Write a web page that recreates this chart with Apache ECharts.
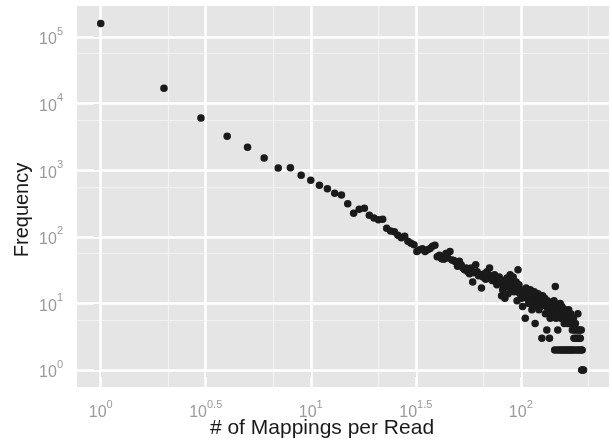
<!DOCTYPE html>
<html>
<head>
<meta charset="utf-8">
<script src="https://cdn.jsdelivr.net/npm/echarts@6/dist/echarts.min.js"></script>
<style>
html,body{margin:0;padding:0;background:#ffffff;}
#chart{width:612px;height:442px;}
</style>
</head>
<body>
<div id="chart"></div>
<script>
// ---- data ----
const mappingsPerRead = [
  1,2,3,4,5,6,7,8,9,10,
  11,12,13,14,15,16,17,18,19,20,
  21,22,23,24,25,26,27,28,29,30,
  31,32,33,34,35,36,37,38,39,40,
  41,42,43,44,45,46,47,48,49,50,
  51,52,53,54,55,56,57,58,59,60,
  61,62,63,64,65,66,67,68,69,70,
  71,72,73,74,75,76,77,78,79,80,
  81,82,83,84,85,86,87,88,89,90,
  91,92,93,94,95,96,97,98,99,100,
  101,102,103,104,105,106,107,108,109,110,
  111,112,113,114,115,116,117,118,119,120,
  121,122,123,124,125,126,127,128,129,130,
  131,132,133,134,135,136,137,138,139,140,
  141,142,143,144,145,146,147,148,149,150,
  151,152,153,154,155,156,157,158,159,160,
  161,162,163,164,165,166,167,168,169,170,
  171,172,173,174,175,176,177,178,179,180,
  181,182,183,184,185,186,187,188,189,190,
  191,192,193,194,195,196,197,199
];
const frequency = [
  160000,17000,6100,3230,2210,1525,1080,1090,838,705,
  593,528,450,425,314,225,259,268,210,192,
  180,183,134,122,119,106,97,102,86,80,
  76,60,64,66,60,64,67,72,75,50,
  53,47,46,56,48,60,45,44,42,36,
  43,38,34,32,34,30,28,34,21,29,
  38,30,26,27,17,25,28,23,30,24,
  34,26,22,24,27,21,19,23,25,20,
  13,16,22,12,18,24,14,20,27,17,
  22,25,15,18,21,11,32,19,14,16,
  12,9,15,13,6,17,12,14,10,11,
  16,13,8,12,9,15,5,11,13,10,
  14,8,12,9,11,3,13,10,10,12,
  7,9,4,11,8,10,3,6,9,7,
  10,8,9,11,2,18,6,9,2,4,
  7,8,2,10,6,2,9,6,2,7,
  5,2,8,6,2,7,5,2,8,5,
  2,6,7,2,5,4,2,6,3,4,
  2,5,3,4,2,3,7,4,2,3,
  4,3,2,4,1,2,1,1
];
// tick exponents (labels are 10^exponent)
const xTickExponents = [0, 0.5, 1, 1.5, 2];
const yTickExponents = [0, 1, 2, 3, 4, 5];
const xMinorExponents = [0.317, 0.817, 1.317, 1.817, 2.317];
const yMinorExponents = [0.75, 1.75, 2.75, 3.75, 4.75];
const xTitle = '# of Mappings per Read';
const yTitle = 'Frequency';

// ---- build ----
const FONT = '"Liberation Sans", Arial, Helvetica, sans-serif';
const points = mappingsPerRead.map((m, i) => [Math.log10(m), Math.log10(frequency[i])]);

const richLabel = {
  b: { fontSize: 16, color: '#9a9a9a', lineHeight: 22, verticalAlign: 'bottom', fontFamily: FONT },
  s: { fontSize: 11, color: '#9a9a9a', lineHeight: 12, verticalAlign: 'top', fontFamily: FONT }
};
const powLabel = v => '{b|10}{s|' + String(v) + '}';

const chart = echarts.init(document.getElementById('chart'), null, { renderer: 'canvas' });
chart.setOption({
  animation: false,
  textStyle: { fontFamily: FONT },
  grid: {
    left: 77, top: 6, right: 3, bottom: 55,
    show: true, backgroundColor: '#e5e5e5', borderWidth: 0
  },
  xAxis: {
    type: 'value', min: -0.113, max: 2.42,
    splitLine: { show: false },
    axisLine: { show: false },
    axisTick: { show: true, customValues: xTickExponents, length: 7,
      lineStyle: { color: '#8a8a8a', width: 2 } },
    axisLabel: { customValues: xTickExponents, margin: 12,
      formatter: powLabel, rich: richLabel }
  },
  yAxis: {
    type: 'value', min: -0.255, max: 5.466,
    splitLine: { show: false },
    axisLine: { show: false },
    axisTick: { show: true, customValues: yTickExponents, length: 7,
      lineStyle: { color: '#8a8a8a', width: 2 } },
    axisLabel: { customValues: yTickExponents, margin: 14,
      formatter: powLabel, rich: richLabel }
  },
  graphic: [
    { type: 'text', x: 322, y: 428,
      style: { text: xTitle, font: '21px ' + FONT, fill: '#1a1a1a',
        textAlign: 'center', textVerticalAlign: 'middle' } },
    { type: 'text', x: 22, y: 210, rotation: Math.PI / 2,
      style: { text: yTitle, font: '20px ' + FONT, fill: '#1a1a1a',
        textAlign: 'center', textVerticalAlign: 'middle' } }
  ],
  series: [
    { type: 'line', data: [], z: 1, silent: true,
      markLine: { silent: true, symbol: 'none', animation: false, z: 1,
        label: { show: false },
        lineStyle: { color: '#f2f2f2', width: 1.2, type: 'solid' },
        emphasis: { disabled: true },
        data: xMinorExponents.map(v => ({ xAxis: v }))
          .concat(yMinorExponents.map(v => ({ yAxis: v }))) } },
    { type: 'line', data: [], z: 2, silent: true,
      markLine: { silent: true, symbol: 'none', animation: false, z: 2,
        label: { show: false },
        lineStyle: { color: '#ffffff', width: 2.5, type: 'solid' },
        emphasis: { disabled: true },
        data: xTickExponents.map(v => ({ xAxis: v }))
          .concat(yTickExponents.map(v => ({ yAxis: v }))) } },
    { type: 'scatter', data: points, z: 10, symbolSize: 7.5,
      itemStyle: { color: '#1a1a1a', opacity: 1 } }
  ]
});
</script>
</body>
</html>
